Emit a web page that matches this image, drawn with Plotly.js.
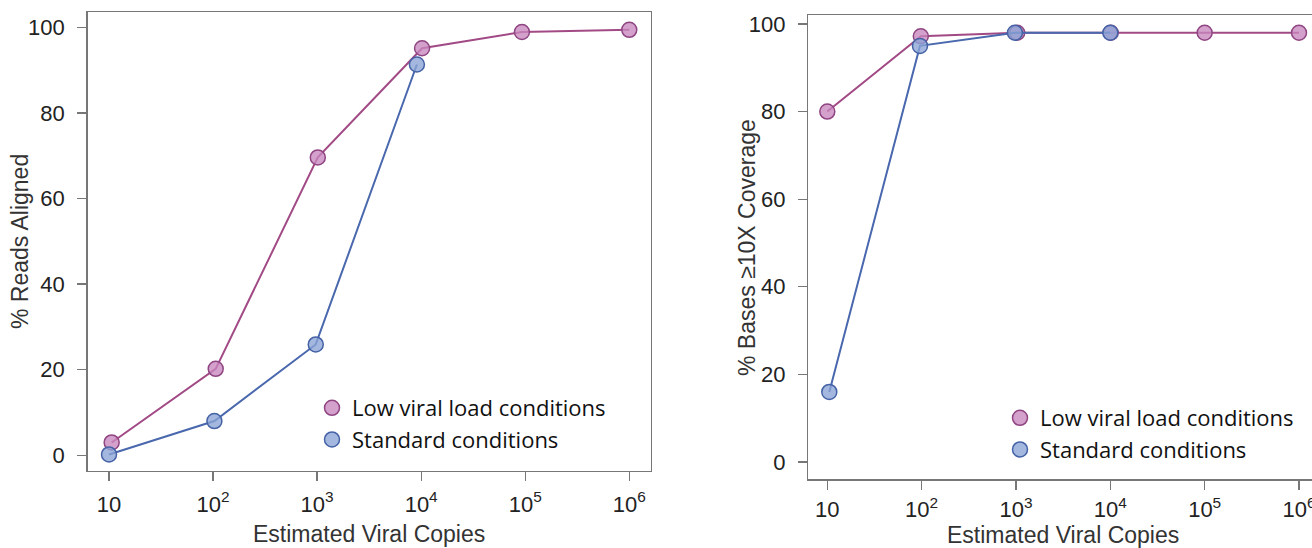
<!DOCTYPE html>
<html>
<head>
<meta charset="utf-8">
<script src="https://cdn.plot.ly/plotly-3.0.1.min.js"></script>
<style>
html, body { margin:0; padding:0; overflow:hidden; background:#fff; }
#chart { width:1320px; height:548px; }
</style>
</head>
<body>
<div id="chart"></div>
<script>
// ---- data ----
const seriesNames = ["Low viral load conditions", "Standard conditions"];
const tickVals = [10, 100, 1000, 10000, 100000, 1000000];
const tickText = ["10", "10<sup>2</sup>", "10<sup>3</sup>", "10<sup>4</sup>", "10<sup>5</sup>", "10<sup>6</sup>"];
const yTickVals = [0, 20, 40, 60, 80, 100];
const xTitle = "Estimated Viral Copies";
const yTitleA = "% Reads Aligned";
const yTitleB = "% Bases ≥10X Coverage";

// Panel A: % Reads Aligned
const readsLowX = [10.6, 106, 1015, 10200, 93000, 1000000];
const readsLowY = [3.0, 20.2, 69.6, 95.1, 98.9, 99.4];
const readsStdX = [10, 103, 970, 9100];
const readsStdY = [0.2, 8.0, 25.9, 91.3];

// Panel B: % Bases >=10X Coverage
const covLowX = [10, 98, 1030, 10100, 100000, 1000000];
const covLowY = [80.0, 97.2, 98.0, 98.0, 98.0, 98.0];
const covStdX = [10.5, 96, 975, 10000];
const covStdY = [16.0, 95.0, 98.0, 98.0];

const W = 1320, H = 548;
const pink = {line:"#a24a85", fill:"rgba(200,135,190,0.78)", edge:"#8f4582"};
const blue = {line:"#4a68ad", fill:"rgba(138,164,214,0.78)", edge:"#4562a6"};

function series(x, y, c, xa, ya) {
  return {
    x: x, y: y, xaxis: xa, yaxis: ya, type: "scatter", mode: "lines+markers",
    showlegend: false, hoverinfo: "skip",
    line: {color: c.line, width: 2},
    marker: {size: 15, color: c.fill, line: {color: c.edge, width: 1.5}}
  };
}
function legendItem(name, c, lg, xa, ya, grp) {
  return {
    x: [null], y: [null], xaxis: xa, yaxis: ya, type: "scatter", mode: "markers",
    name: name, legend: lg, legendgroup: grp, showlegend: true,
    marker: {size: 15, color: c.fill, line: {color: c.edge, width: 1.5}}
  };
}

const data = [
  series(readsLowX, readsLowY, pink, "x", "y"),
  series(readsStdX, readsStdY, blue, "x", "y"),
  series(covLowX, covLowY, pink, "x2", "y2"),
  series(covStdX, covStdY, blue, "x2", "y2"),
  legendItem(seriesNames[0], pink, "legend", "x", "y", "a1"),
  legendItem(seriesNames[1], blue, "legend", "x", "y", "a2"),
  legendItem(seriesNames[0], pink, "legend2", "x2", "y2", "b1"),
  legendItem(seriesNames[1], blue, "legend2", "x2", "y2", "b2")
];

const tickFont = {family: "Liberation Sans, Arial, sans-serif", size: 22, color: "#222"};
const titleFont = {family: "Liberation Sans, Arial, sans-serif", size: 23, color: "#333"};
const frame = "#777";

function xAxis(dom, rng, anchor, standoff) {
  return {
    type: "log", domain: dom, range: rng, anchor: anchor,
    tickvals: tickVals, ticktext: tickText, tickfont: tickFont,
    ticks: "outside", ticklen: 9, tickwidth: 1.3, tickcolor: frame,
    ticklabelstandoff: standoff,
    showline: true, linecolor: frame, linewidth: 1.5, mirror: true,
    showgrid: false, zeroline: false, fixedrange: true
  };
}
function yAxis(dom, rng, anchor, mirror) {
  return {
    domain: dom, range: rng, anchor: anchor,
    tickvals: yTickVals, tickfont: tickFont,
    ticks: "outside", ticklen: 9, tickwidth: 1.3, tickcolor: frame,
    ticklabelstandoff: 8,
    showline: true, linecolor: frame, linewidth: 1.5, mirror: mirror,
    showgrid: false, zeroline: false, fixedrange: true
  };
}
function axisTitle(text, xpx, ypx, angle) {
  return {
    text: text, xref: "paper", yref: "paper", x: xpx / W, y: (H - ypx) / H,
    xanchor: "center", yanchor: "middle", textangle: angle, showarrow: false,
    borderpad: 0, font: titleFont
  };
}

const legendFont = {family: "Open Sans, sans-serif", size: 22, color: "#111"};

const layout = {
  width: W, height: H,
  margin: {l: 0, r: 0, t: 0, b: 0},
  paper_bgcolor: "#fff", plot_bgcolor: "#fff",
  xaxis: xAxis([87.7 / W, 650.7 / W], [0.795, 6.206], "y", 4),
  yaxis: yAxis([(H - 470.7) / H, (H - 12.3) / H], [-3.6, 103.5], "x", true),
  xaxis2: xAxis([808.3 / W, 1318 / W], [0.7986, 6.2014], "y2", 1),
  yaxis2: yAxis([(H - 479.3) / H, (H - 15) / H], [-3.95, 102.05], "x2", false),
  annotations: [
    axisTitle(yTitleA, 20, 242, -90),
    axisTitle(yTitleB, 747, 248, -90),
    axisTitle(xTitle, 369, 534, 0),
    axisTitle(xTitle, 1063, 535, 0)
  ],
  legend: {
    x: 312 / W, y: (H - 387) / H, xanchor: "left", yanchor: "top",
    bgcolor: "rgba(0,0,0,0)", font: legendFont,
    traceorder: "grouped", tracegroupgap: 0
  },
  legend2: {
    x: 1000 / W, y: (H - 397) / H, xanchor: "left", yanchor: "top",
    bgcolor: "rgba(0,0,0,0)", font: legendFont,
    traceorder: "grouped", tracegroupgap: 0
  },
  showlegend: true
};

Plotly.newPlot("chart", data, layout, {displayModeBar: false, staticPlot: true});
</script>
</body>
</html>
